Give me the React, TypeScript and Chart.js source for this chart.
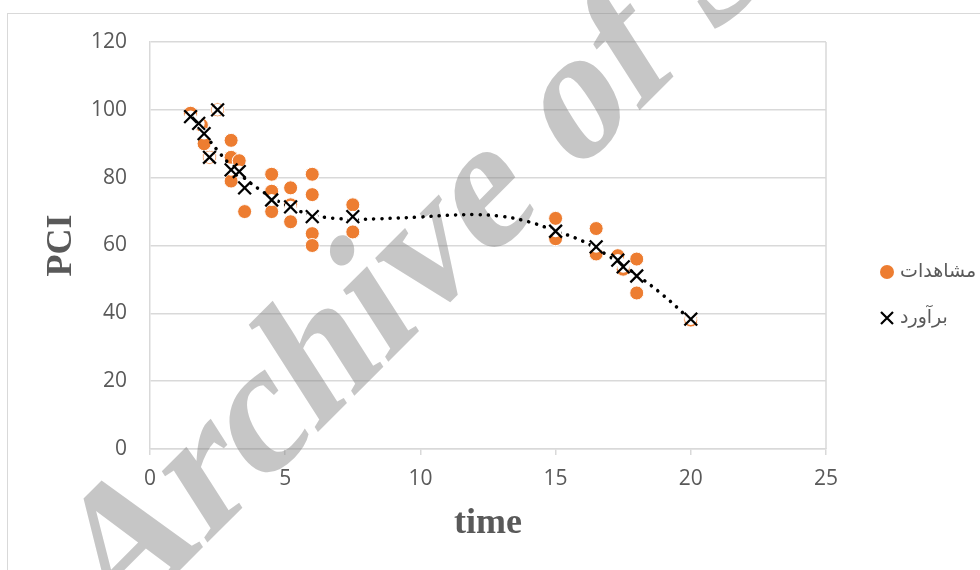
import React, { useEffect, useRef } from "react";
import { Chart, registerables } from "chart.js";

Chart.register(...registerables);

// ---- data ----
const obsX = [1.5, 1.9, 2, 2.5, 2.2, 3, 3, 3.3, 3, 3.5, 4.5, 4.5, 4.5, 5.2, 5.2, 5.2, 6, 6, 6, 6, 7.5, 7.5, 15, 15, 16.5, 16.5, 17.3, 17.5, 18, 18, 20];
const obsY = [99, 95.5, 90, 100, 86, 91, 86, 85, 79, 70, 81, 76, 70, 77, 72, 67, 81, 75, 63.5, 60, 72, 64, 68, 62, 65, 57.5, 57, 53, 56, 46, 38];

const estX = [1.5, 1.8, 2, 2.2, 2.5, 3, 3.3, 3.5, 4.5, 5.2, 6, 7.5, 15, 16.5, 17.3, 17.5, 18, 20];
const estY = [98, 96, 93, 86, 100, 82.3, 81.8, 77, 73.4, 71.4, 68.5, 68.5, 64.2, 59.6, 55.7, 53.7, 51, 38.3];

const trendX = [1.5, 2, 2.5, 3, 3.5, 4, 4.5, 5, 5.5, 6, 6.5, 7, 7.5, 8.5, 10, 11, 12, 13, 14, 15, 16, 17, 18, 19, 20];
const trendY = [98, 93, 88, 83.5, 79.8, 76.8, 74.2, 72, 70.2, 69, 68.3, 67.9, 67.7, 67.9, 68.4, 68.9, 69.1, 68.6, 67, 64.3, 61.3, 56.7, 51.3, 45.2, 38];

const xTickValues = [0, 5, 10, 15, 20, 25];
const yTickValues = [0, 20, 40, 60, 80, 100, 120];

const obsLabel = "مشاهدات";
const estLabel = "برآورد";
const xTitle = "time";
const yTitle = "PCI";
const watermarkText = "Archive of SID";

const ORANGE = "#ED7D31";
const GRID = "#D9D9D9";
const TEXT = "#595959";
const WATERMARK_FONT = 'bold 180px "Liberation Serif"';

const toPoints = (xs: number[], ys: number[]) => xs.map((x, i) => ({ x, y: ys[i] }));

const framePlugin = {
  id: "frame",
  beforeDraw(chart: any) {
    const ctx = chart.ctx;
    ctx.save();
    ctx.fillStyle = "#ffffff";
    ctx.fillRect(0, 0, chart.width, chart.height);
    ctx.strokeStyle = "#D9D9D9";
    ctx.lineWidth = 1;
    ctx.strokeRect(7.5, 13.5, chart.width + 20, chart.height + 20);
    ctx.restore();
  },
  beforeDatasetsDraw(chart: any) {
    const ctx = chart.ctx;
    const a = chart.chartArea;
    ctx.save();
    ctx.strokeStyle = GRID;
    ctx.lineWidth = 1.5;
    ctx.beginPath();
    ctx.moveTo(a.right, a.top);
    ctx.lineTo(a.right, a.bottom);
    ctx.stroke();
    // translucent, slanted watermark
    ctx.translate(112, 638);
    ctx.rotate((-45 * Math.PI) / 180);
    ctx.transform(1, 0, -0.22, 1, 0, 0);
    ctx.font = WATERMARK_FONT;
    ctx.fillStyle = "rgba(128,128,128,0.45)";
    ctx.textBaseline = "alphabetic";
    ctx.fillText(watermarkText, 0, 0);
    ctx.restore();
  },
};

const legendPlugin = {
  id: "customLegend",
  afterDraw(chart: any) {
    const ctx = chart.ctx;
    const a = chart.chartArea;
    const mx = a.right + 61;
    const tx = a.right + 74;
    const y1 = 272;
    const y2 = 318;
    ctx.save();
    ctx.fillStyle = ORANGE;
    ctx.beginPath();
    ctx.arc(mx, y1, 7, 0, Math.PI * 2);
    ctx.fill();
    ctx.strokeStyle = "#000000";
    ctx.lineWidth = 2.2;
    const r = 6;
    ctx.beginPath();
    ctx.moveTo(mx - r, y2 - r);
    ctx.lineTo(mx + r, y2 + r);
    ctx.moveTo(mx + r, y2 - r);
    ctx.lineTo(mx - r, y2 + r);
    ctx.stroke();
    ctx.fillStyle = TEXT;
    ctx.font = '19px "DejaVu Sans"';
    ctx.textAlign = "left";
    ctx.textBaseline = "middle";
    ctx.fillText(obsLabel, tx, y1);
    ctx.fillText(estLabel, tx, y2);
    ctx.restore();
  },
};

export default function App() {
  const ref = useRef<HTMLCanvasElement | null>(null);

  useEffect(() => {
    if (!ref.current) return;
    const chart = new Chart(ref.current, {
      type: "scatter",
      data: {
        datasets: [
          {
            label: estLabel,
            data: toPoints(estX, estY),
            pointStyle: "crossRot",
            pointRadius: 9,
            borderColor: "#000000",
            backgroundColor: "#000000",
            borderWidth: 2.3,
            order: 0,
          },
          {
            label: "halo",
            data: toPoints(estX, estY),
            pointStyle: "circle",
            pointRadius: 6,
            borderWidth: 0,
            backgroundColor: "#ffffff",
            borderColor: "#ffffff",
            order: 1,
          },
          {
            label: "trend",
            data: toPoints(trendX, trendY),
            showLine: true,
            tension: 0.4,
            pointRadius: 0,
            borderColor: "#000000",
            borderWidth: 3.5,
            borderDash: [0.1, 8.1],
            borderCapStyle: "round",
            order: 2,
          },
          {
            label: obsLabel,
            data: toPoints(obsX, obsY),
            pointStyle: "circle",
            pointRadius: 7,
            backgroundColor: ORANGE,
            borderColor: "#ffffff",
            borderWidth: 1,
            order: 3,
          },
        ],
      },
      options: {
        responsive: false,
        animation: false,
        events: [],
        layout: { padding: { left: 0, top: 42, right: 154, bottom: 0 } },
        plugins: {
          legend: { display: false },
          tooltip: { enabled: false },
        },
        scales: {
          x: {
            type: "linear",
            min: 0,
            max: 25,
            afterFit: (s: any) => {
              s.height = 121;
            },
            afterBuildTicks: (s: any) => {
              s.ticks = xTickValues.map((v) => ({ value: v }));
            },
            grid: {
              display: true,
              drawOnChartArea: false,
              drawTicks: true,
              tickLength: 6,
              color: GRID,
              lineWidth: 1.5,
            },
            border: { display: true, color: GRID, width: 1.5 },
            ticks: {
              color: TEXT,
              padding: 11,
              font: { family: '"Open Sans"', size: 21 },
              maxRotation: 0,
            },
            title: {
              display: true,
              text: xTitle,
              color: TEXT,
              font: { family: '"Liberation Serif"', size: 36, weight: "bold" },
              padding: { top: 0, bottom: 25 },
            },
          },
          y: {
            type: "linear",
            min: 0,
            max: 120,
            afterFit: (s: any) => {
              s.width = 150;
            },
            afterBuildTicks: (s: any) => {
              s.ticks = yTickValues.map((v) => ({ value: v }));
            },
            grid: {
              display: true,
              drawTicks: false,
              color: GRID,
              lineWidth: 1.5,
            },
            border: { display: true, color: GRID, width: 1.5 },
            ticks: {
              color: TEXT,
              padding: 23,
              font: { family: '"Open Sans"', size: 21 },
            },
            title: {
              display: true,
              text: yTitle,
              color: TEXT,
              font: { family: '"Liberation Serif"', size: 36, weight: "bold" },
              padding: { top: 40, bottom: 0 },
            },
          },
        },
      },
      plugins: [framePlugin, legendPlugin],
    });
    let alive = true;
    const fonts: any = (document as any).fonts;
    if (fonts && fonts.load) {
      Promise.all([
        fonts.load(WATERMARK_FONT, watermarkText),
        fonts.load('21px "Open Sans"', "0123456789"),
        fonts.load('19px "DejaVu Sans"', obsLabel + estLabel),
      ])
        .catch(() => undefined)
        .then(() => {
          if (alive) chart.update();
        });
    }
    return () => {
      alive = false;
      chart.destroy();
    };
  }, []);

  return (
    <div style={{ position: "fixed", left: 0, top: 0, width: 980, height: 570, background: "#fff" }}>
      <canvas ref={ref} width={980} height={570} style={{ display: "block" }} />
    </div>
  );
}
